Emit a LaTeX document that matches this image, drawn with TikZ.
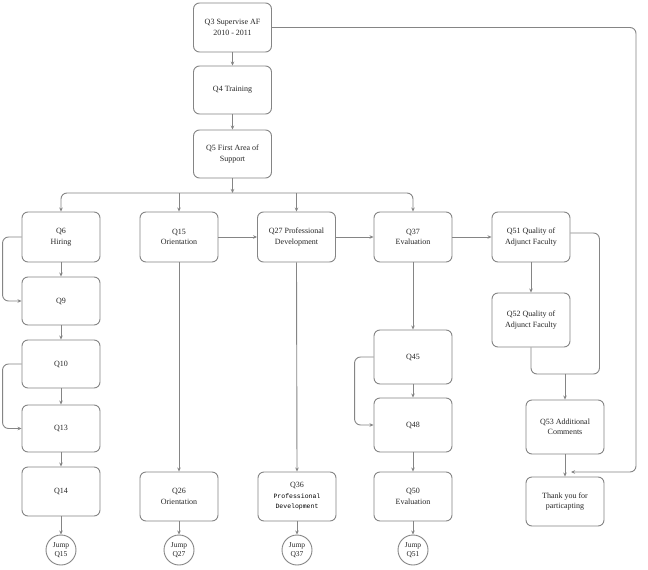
\documentclass[tikz,border=0pt]{standalone}
\usepackage{fontspec}
\setmainfont{Liberation Serif}
\newfontfamily\monofnt{Liberation Mono}
\usetikzlibrary{arrows.meta,calc}
\definecolor{ln}{HTML}{858585}
\definecolor{tx}{HTML}{262626}
\tikzset{
  box/.style={draw=ln, line width=0.9pt, rounded corners=6pt, minimum width=78pt, minimum height=49pt, align=center, text=tx, font=\fontsize{8}{10.5}\selectfont, inner sep=1pt},
  jump/.style={draw=ln, line width=0.9pt, circle, minimum size=30pt, inner sep=0pt, align=center, text=tx, font=\fontsize{7.5}{9.5}\selectfont},
  arr/.style={draw=ln, line width=0.9pt, -{Stealth[length=4pt,width=3.5pt]}},
  ln/.style={draw=ln, line width=0.9pt},
}
\begin{document}
\begin{tikzpicture}[x=1pt,y=-1pt]
\useasboundingbox (0,0) rectangle (648,570);
\fill[white] (0,0) rectangle (648,570);
% top chain
\node[box] (q3) at (232.5,27.5) {Q3 Supervise AF\\2010 - 2011};
\node[box, minimum height=48pt] (q4) at (232.5,90) {Q4 Training};
\node[box, minimum height=48pt] (q5) at (232.5,154) {Q5 First Area of\\Support};
% row 1
\node[box, minimum height=50pt] (q6) at (61,237) {Q6\\Hiring};
\node[box, minimum height=50pt] (q15) at (179,237) {Q15\\Orientation};
\node[box, minimum height=50pt] (q27) at (296.5,237) {Q27 Professional\\Development};
\node[box, minimum height=50pt] (q37) at (413,237) {Q37\\Evaluation};
\node[box, minimum height=50pt] (q51) at (531,237) {Q51 Quality of\\Adjunct Faculty};
% left column
\node[box, minimum height=48pt] (q9) at (61,301) {Q9};
\node[box, minimum height=48pt] (q10) at (61,364) {Q10};
\node[box, minimum height=47pt] (q13) at (61,428.5) {Q13};
\node[box] (q14) at (61,491.5) {Q14};
% other columns
\node[box] (q26) at (179,496.5) {Q26\\Orientation};
\node[box] (q36) at (297,496.5) {Q36\\{\monofnt\fontsize{6.5}{9}\selectfont\color{black}Professional}\\{\monofnt\fontsize{6.5}{9}\selectfont\color{black}Development}};
\node[box, minimum height=54pt] (q45) at (413,357) {Q45};
\node[box, minimum height=54pt] (q48) at (413,425) {Q48};
\node[box] (q50) at (413,496.5) {Q50\\Evaluation};
\node[box, minimum height=54pt] (q52) at (531,320) {Q52 Quality of\\Adjunct Faculty};
\node[box, minimum height=54pt] (q53) at (565,427) {Q53 Additional\\Comments};
\node[box] (ty) at (565,501.5) {Thank you for\\particapting};
% jumps
\node[jump] (j15) at (61,550) {Jump\\Q15};
\node[jump] (j27) at (179,550) {Jump\\Q27};
\node[jump] (j37) at (297,550) {Jump\\Q37};
\node[jump] (j51) at (413,550) {Jump\\Q51};
% coordinates
\coordinate (bus) at (232.5,193);
\coordinate (mj) at (565,374);
\coordinate (tyin) at (571,472);
% connectors
\draw[arr] (q3) -- (q4);
\draw[arr] (q4) -- (q5);
\draw[arr] (q5) -- (bus);
\draw[arr, rounded corners=6pt] (bus) -| (q6.north);
\draw[arr, rounded corners=6pt] (bus) -| (q37.north);
\draw[arr] (q15.north |- bus) -- (q15.north);
\draw[arr] (q27.north |- bus) -- (q27.north);
\draw[arr] (q15) -- (q27);
\draw[arr] (q27) -- (q37);
\draw[arr] (q37) -- (q51);
% left
\draw[arr] (q6) -- (q9);
\draw[arr] (q9) -- (q10);
\draw[arr] (q10) -- (q13);
\draw[arr] (q13) -- (q14);
\draw[arr] (q14) -- (j15);
\draw[arr, rounded corners=6pt] (q6.west) -- ++(-19,0) |- (q9.west);
\draw[arr, rounded corners=6pt] (q10.west) -- ++(-19,0) |- (q13.west);
% middle
\draw[arr] (q15) -- (q26);
\draw[arr] (q26) -- (j27);
\draw[arr] (q27.south) -- (q36.north);
\draw[arr] (q36) -- (j37);
\draw[arr] (q37) -- (q45);
\draw[arr] (q45) -- (q48);
\draw[arr] (q48) -- (q50);
\draw[arr] (q50) -- (j51);
\draw[arr, rounded corners=6pt] (q45.west) -- ++(-19,0) |- (q48.west);
% right
\draw[arr] (q51) -- (q52);
\draw[ln, rounded corners=6pt] ([yshift=4pt]q51.east) -- ++(29,0) |- (mj);
\draw[ln, rounded corners=6pt] (q52.south) |- (mj);
\draw[arr] (mj) -- (q53.north);
\draw[arr] (q53) -- (ty);
\draw[arr, rounded corners=6pt] (q3.east) -| (636,472) -- (tyin);
\end{tikzpicture}
\end{document}
